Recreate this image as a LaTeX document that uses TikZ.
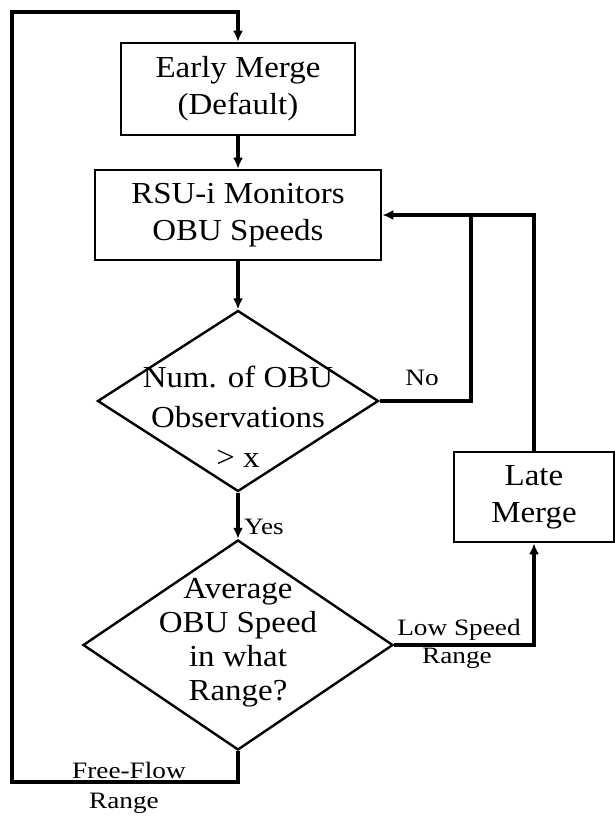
\documentclass[tikz,border=0pt]{standalone}
\usepackage{fontspec}
\setmainfont{Liberation Serif}[FakeStretch=1.08]
\newfontfamily\lblfont{Liberation Serif}[FakeStretch=1.16]
\usetikzlibrary{arrows.meta,shapes.geometric}
\begin{document}
\begin{tikzpicture}[x=1pt,y=-1pt,
  box/.style={draw,line width=2.6pt,rectangle,inner sep=0pt,align=center,
    font=\fontsize{30.5}{37}\selectfont},
  dia/.style={draw,line width=2.4pt,diamond,inner sep=0pt},
  txt/.style={align=center,inner sep=0pt},
  lbl/.style={inner sep=0pt,font=\lblfont\fontsize{23.5}{28}\selectfont},
  link/.style={line width=3.2pt},
  arr/.style={link,-{Latex[length=11pt,width=10pt]}}]
\useasboundingbox (0,0) rectangle (615,817);

% process boxes
\node[box,minimum width=234pt,minimum height=92pt] (em) at (238,89) {Early Merge\\(Default)};
\node[box,minimum width=286pt,minimum height=90pt] (rsu) at (238,215) {RSU-i Monitors\\OBU Speeds};
\node[box,minimum width=160pt,minimum height=90pt] (lm) at (534,497) {Late\\Merge};

% decisions
\node[dia,minimum width=281pt,minimum height=181pt] (d1) at (238,401) {};
\node[txt,font=\fontsize{30.5}{40}\selectfont] (d1t) at (238,417) {Num. of OBU\\Observations\\> x};
\node[dia,minimum width=310pt,minimum height=210pt] (d2) at (238,645) {};
\node[txt,font=\fontsize{30.5}{34}\selectfont] (d2t) at (238,643) {Average\\OBU Speed\\in what\\Range?};

% loop corners
\coordinate (bl) at (12,782);
\coordinate (tl) at (12,12);
\coordinate (jn) at (471,215);

% connectors
\draw[arr] (em.south) -- (rsu.north);
\draw[arr] (rsu.south) -- (d1.north);
\draw[arr] (d1.south) -- (d2.north);
\draw[link] (d1.east) -| (jn);
\draw[arr] (lm.north) |- (rsu.east);
\draw[arr] (d2.east) -| (lm.south);
\draw[arr] (d2.south) |- (bl) -- (tl) -| (em.north);

% connector labels
\node[lbl] (no) at (422,378) {No};
\node[lbl] (yes) at (264,527) {Yes};
\node[lbl] (low1) at (459,630) {Low Speed};
\node[lbl] (low2) at (457,658) {Range};
\node[lbl] (ff1) at (129,770) {Free-Flow};
\node[lbl] (ff2) at (124,803) {Range};
\end{tikzpicture}
\end{document}
